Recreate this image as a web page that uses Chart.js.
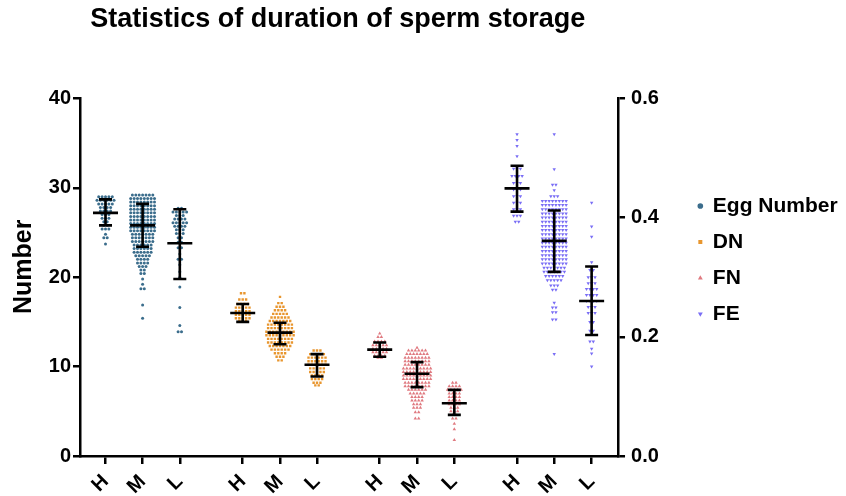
<!DOCTYPE html>
<html><head><meta charset="utf-8">
<script src="https://cdn.jsdelivr.net/npm/chart.js@4.4.1/dist/chart.umd.min.js"></script>
<style>html,body{margin:0;padding:0;background:#fff}</style>
</head><body>
<canvas id="c" width="846" height="496"></canvas>
<script>
// ---- data ----
const titleText = 'Statistics of duration of sperm storage';
const yTitle = 'Number';
const seriesNames = ['Egg Number', 'DN', 'FN', 'FE'];
const levelLabels = ['H', 'M', 'L'];
const yTicks = [0, 10, 20, 30, 40];
const y2Ticks = [0.0, 0.2, 0.4, 0.6];

// each group: [value, number of points at that value]
const eggH = [[29.0,5],[28.6,6],[28.2,5],[27.8,4],[27.4,4],[27.0,3],[26.6,3],[26.2,2],[25.8,2],[25.4,3],[24.8,1],[24.4,2],[23.7,1]];
const eggM = [[29.2,7],[28.8,8],[28.4,8],[28.0,8],[27.6,8],[27.2,8],[26.8,8],[26.4,8],[26.0,8],[25.6,8],[25.2,8],[24.8,7],[24.4,7],[24.0,7],[23.6,6],[23.2,6],[22.8,6],[22.4,5],[22.0,4],[21.6,4],[21.2,3],[20.8,2],[20.4,2],[19.8,1],[19.2,1],[18.7,2],[16.9,1],[15.4,1]];
const eggL = [[27.7,2],[27.3,5],[26.9,3],[26.5,4],[26.1,5],[25.7,4],[25.3,3],[24.9,3],[24.4,2],[23.9,2],[23.3,2],[22.6,1],[22.0,2],[21.4,1],[20.6,1],[20.0,1],[18.9,1],[16.6,1],[14.6,1],[13.9,2]];
const dnH = [[18.2,2],[17.5,3],[17.0,4],[16.6,5],[16.2,5],[15.8,5],[15.4,5],[15.1,3]];
const dnM = [[17.8,1],[17.1,2],[16.7,3],[16.3,4],[15.9,5],[15.5,6],[15.1,7],[14.7,8],[14.3,8],[13.9,9],[13.5,9],[13.1,8],[12.7,8],[12.3,7],[11.9,6],[11.5,4],[11.1,3],[10.7,2]];
const dnL = [[11.8,3],[11.4,5],[11.0,6],[10.6,6],[10.2,6],[9.8,5],[9.4,5],[9.0,4],[8.6,4],[8.2,3],[7.9,2]];
const fnH = [[13.7,1],[13.3,2],[12.8,4],[12.4,5],[12.0,5],[11.6,5],[11.2,4],[11.0,2]];
const fnM = [[12.1,1],[11.8,6],[11.4,7],[11.0,8],[10.6,8],[10.2,8],[9.8,9],[9.4,9],[9.0,9],[8.6,9],[8.2,8],[7.8,8],[7.4,6],[7.0,5],[6.6,4],[6.2,4],[5.8,3],[5.4,3],[4.9,2],[4.2,2]];
const fnL = [[8.2,2],[7.8,4],[7.4,5],[7.0,4],[6.6,4],[6.2,4],[5.8,4],[5.4,3],[5.0,3],[4.6,2],[4.2,2],[3.6,1],[3.0,1],[1.8,1]];
const feH = [[0.540,1],[0.530,1],[0.520,1],[0.503,1],[0.482,3],[0.470,4],[0.458,3],[0.447,3],[0.436,3],[0.425,3],[0.414,3],[0.403,3],[0.393,2]];
const feM = [[0.540,1],[0.481,1],[0.455,2],[0.446,1],[0.436,3],[0.428,8],[0.421,8],[0.414,8],[0.407,8],[0.400,8],[0.393,8],[0.386,8],[0.379,8],[0.372,8],[0.365,8],[0.358,8],[0.351,8],[0.344,8],[0.337,8],[0.330,8],[0.323,8],[0.316,7],[0.309,7],[0.302,6],[0.295,5],[0.286,3],[0.279,2],[0.257,1],[0.249,2],[0.241,2],[0.229,2],[0.171,1]];
const feL = [[0.425,1],[0.385,1],[0.368,1],[0.325,1],[0.312,2],[0.300,3],[0.290,3],[0.280,4],[0.270,4],[0.260,4],[0.250,3],[0.240,3],[0.225,2],[0.210,2],[0.192,2],[0.180,1],[0.172,1],[0.150,1]];

// mean and SD bar ends
const eggMean = [27.2, 25.8, 23.8], eggLow = [25.8, 23.4, 19.8], eggHigh = [28.7, 28.2, 27.6];
const dnMean = [16.0, 13.8, 10.2],  dnLow = [15.0, 12.5, 8.9],   dnHigh = [17.0, 14.9, 11.4];
const fnMean = [11.9, 9.2, 5.9],    fnLow = [11.1, 7.7, 4.6],    fnHigh = [12.7, 10.5, 7.4];
const feMean = [0.449, 0.361, 0.260], feLow = [0.410, 0.309, 0.203], feHigh = [0.487, 0.412, 0.318];

// ---- layout / style constants ----
const plotWidthUnits = 538;          // x scale in pixel-like units across the plot area
const groupCenters = [25.5, 62.6, 99.8, 162.7, 200, 237, 299.7, 337, 374.3, 437, 474.2, 511.6];
const dotStep = 3.4;
const colors = ['#3b6d8c', '#e8962f', '#e07a80', '#7a6ef5'];
const NB = '\u00a0';

const groups = [[eggH, eggM, eggL], [dnH, dnM, dnL], [fnH, fnM, fnL], [feH, feM, feL]];
const stats = [
  {mean: eggMean, low: eggLow, high: eggHigh},
  {mean: dnMean, low: dnLow, high: dnHigh},
  {mean: fnMean, low: fnLow, high: fnHigh},
  {mean: feMean, low: feLow, high: feHigh}
];

function swarm(levels, center) {
  const pts = [];
  levels.forEach(([v, n]) => {
    for (let k = 0; k < n; k++) pts.push({x: center + (k - (n - 1) / 2) * dotStep, y: v});
  });
  return pts;
}

const pointStyles = [
  {pointStyle: 'circle', pointRadius: 1.5, rotation: 0},
  {pointStyle: 'rect', pointRadius: 1.7, rotation: 0},
  {pointStyle: 'triangle', pointRadius: 2.0, rotation: 0},
  {pointStyle: 'triangle', pointRadius: 2.0, rotation: 180}
];

const datasets = seriesNames.map((name, si) => {
  let data = [];
  groups[si].forEach((lv, g) => { data = data.concat(swarm(lv, groupCenters[si * 3 + g])); });
  return {
    label: name,
    data,
    yAxisID: si === 3 ? 'y2' : 'y',
    backgroundColor: colors[si],
    borderColor: colors[si],
    borderWidth: 0,
    pointStyle: pointStyles[si].pointStyle,
    pointRadius: pointStyles[si].pointRadius,
    rotation: pointStyles[si].rotation,
    pointHoverRadius: pointStyles[si].pointRadius
  };
});

const errBars = {
  id: 'errBars',
  afterLayout(chart) {
    // let the legend text run to the canvas edge instead of being clipped
    const lg = chart.legend;
    if (lg) { lg.right = chart.width; lg.width = lg.right - lg.left; }
  },
  afterDatasetsDraw(chart) {
    const ctx = chart.ctx, xs = chart.scales.x;
    ctx.save();
    ctx.strokeStyle = '#000';
    ctx.lineWidth = 2.6;
    stats.forEach((s, si) => {
      const ys = chart.scales[si === 3 ? 'y2' : 'y'];
      for (let g = 0; g < 3; g++) {
        const cx = xs.getPixelForValue(groupCenters[si * 3 + g]);
        const m = ys.getPixelForValue(s.mean[g]);
        const lo = ys.getPixelForValue(s.low[g]);
        const hi = ys.getPixelForValue(s.high[g]);
        ctx.beginPath();
        ctx.moveTo(cx, hi); ctx.lineTo(cx, lo);
        ctx.moveTo(cx - 12.5, m); ctx.lineTo(cx + 12.5, m);
        ctx.moveTo(cx - 6.5, hi); ctx.lineTo(cx + 6.5, hi);
        ctx.moveTo(cx - 6.5, lo); ctx.lineTo(cx + 6.5, lo);
        ctx.stroke();
      }
    });
    ctx.restore();
  }
};

const FONT = "'Liberation Sans', Arial, Helvetica, sans-serif";
const axisGrid = {display: true, drawOnChartArea: false, drawTicks: true, color: '#000', lineWidth: 2.5};
const axisBorder = {display: true, color: '#000', width: 2.5};

new Chart(document.getElementById('c'), {
  type: 'scatter',
  data: {datasets},
  plugins: [errBars],
  options: {
    responsive: false,
    animation: false,
    events: [],
    layout: {padding: {left: 0, right: 26, top: 0, bottom: 0}},
    plugins: {
      title: {
        display: true, text: titleText + NB + NB + NB, color: '#000', fullSize: false, align: 'center',
        font: {family: FONT, size: 27, weight: 'bold'},
        padding: {top: 3, bottom: 63}
      },
      legend: {
        position: 'right', align: 'center',
        title: {display: true, text: ' ', font: {size: 10}, padding: {top: 6, bottom: 6}},
        labels: {
          usePointStyle: true, boxWidth: 4, boxHeight: 4, padding: 15, color: '#000',
          font: {family: FONT, size: 21, weight: 'bold'}
        }
      },
      tooltip: {enabled: false}
    },
    scales: {
      x: {
        type: 'linear', position: 'bottom', min: 0, max: plotWidthUnits,
        afterBuildTicks: (sc) => { sc.ticks = groupCenters.map(v => ({value: v})); },
        afterFit: (sc) => { sc.height = 40; },
        ticks: {
          autoSkip: false, maxRotation: 45, minRotation: 45, padding: 6, color: '#000',
          font: {family: FONT, size: 20, weight: 'bold'},
          callback: (v, i) => levelLabels[i % 3]
        },
        grid: Object.assign({tickLength: 8}, axisGrid),
        border: axisBorder
      },
      y: {
        position: 'left', min: 0, max: 40,
        afterBuildTicks: (sc) => { sc.ticks = yTicks.map(v => ({value: v})); },
        afterFit: (sc) => { sc.width = 80; },
        ticks: {padding: 2, color: '#000', font: {family: FONT, size: 20, weight: 'bold'}},
        grid: Object.assign({tickLength: 7}, axisGrid),
        border: axisBorder,
        title: {display: true, text: NB + NB + NB + yTitle, color: '#000', font: {family: FONT, size: 25, weight: 'bold'}, padding: {top: 9, bottom: 0}}
      },
      y2: {
        position: 'right', min: 0, max: 0.6,
        afterBuildTicks: (sc) => { sc.ticks = y2Ticks.map(v => ({value: v})); },
        afterFit: (sc) => { sc.width = 65.3; },
        ticks: {padding: 6, color: '#000', font: {family: FONT, size: 20, weight: 'bold'}, callback: (v) => Number(v).toFixed(1)},
        grid: Object.assign({tickLength: 7}, axisGrid),
        border: axisBorder
      }
    }
  }
});
</script>
</body></html>
